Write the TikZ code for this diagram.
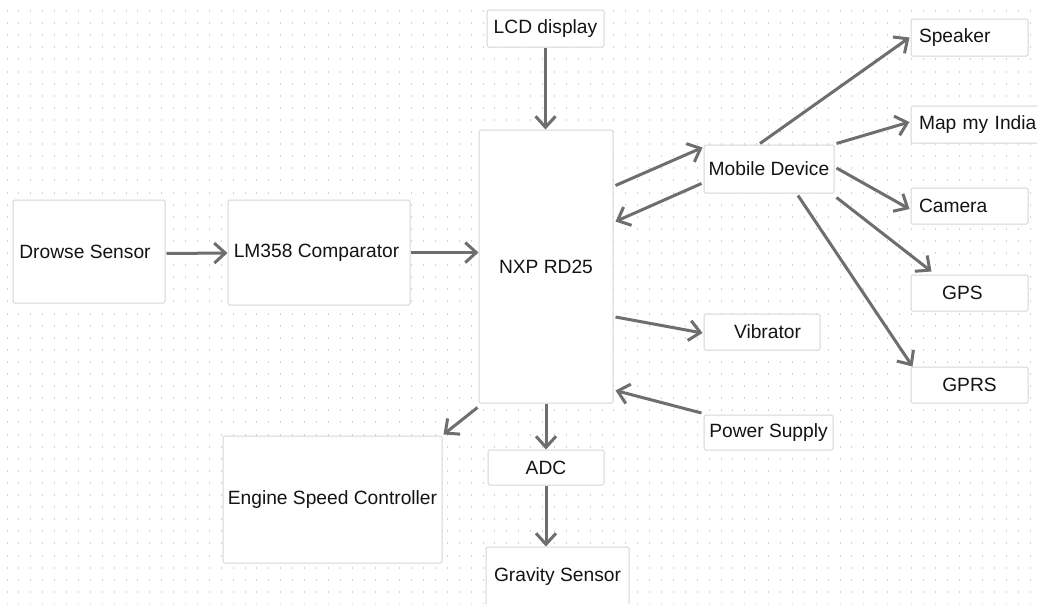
\documentclass[tikz,border=0pt]{standalone}
\usepackage{fontspec}
\setmainfont{Liberation Sans}
\usetikzlibrary{arrows.meta,calc}
\definecolor{boxline}{HTML}{D4D4DC}
\definecolor{arrowgray}{HTML}{6E6E6E}
\definecolor{dotgray}{HTML}{D2D2D2}
\definecolor{txt}{HTML}{141414}
\tikzset{
  blk/.style={draw=boxline, line width=1pt, fill=white, rounded corners=1.5pt,
    inner sep=0pt, text=txt, font=\fontsize{19.2}{23}\selectfont, align=center},
  lblk/.style={blk, align=left},
  arr/.style={draw=arrowgray, line width=3pt,
    -{Straight Barb[length=11pt,width=20pt,line width=3pt]}},
}
\newcommand{\dn}[1]{\raisebox{-1.5pt}{#1}}
\begin{document}
\begin{tikzpicture}[x=1pt,y=-1pt]
\useasboundingbox (0,0) rectangle (1037,603);
\fill[white] (0,0) rectangle (1037,603);
% dotted grid
\foreach \i in {0,...,86}{
  \foreach \j in {0,...,49}{
    \fill[dotgray] ({6.5+11.9*\i},{10+12.1*\j}) rectangle +(1,2);
  }
}
% nodes
\node[blk, minimum width=152, minimum height=103] (ds) at (89,251.5) {\hspace*{-8pt}\dn{Drowse Sensor}};
\node[blk, minimum width=182, minimum height=105] (lm) at (319,252.5) {\hspace*{-5pt}\dn{LM358 Comparator}};
\node[blk, minimum width=134, minimum height=273] (nxp) at (546,266.5) {\dn{NXP RD25}};
\node[blk, minimum width=117, minimum height=37] (lcd) at (545.5,28.5) {\dn{LCD display}};
\node[blk, minimum width=130, minimum height=48] (mob) at (769,169) {\dn{Mobile Device}};
\node[lblk, minimum width=117, minimum height=37, text width=101] (spk) at (969.5,37.5) {\dn{Speaker}};
\node[lblk, minimum width=134, minimum height=37, text width=118] (map) at (978,124.5) {\dn{Map my India}};
\node[lblk, minimum width=117, minimum height=36, text width=101] (cam) at (969.5,206) {\dn{Camera}};
\node[blk, minimum width=117, minimum height=36] (gps) at (969.5,293) {\dn{GPS}\hspace*{14pt}};
\node[blk, minimum width=117, minimum height=36] (gprs) at (969.5,385) {\dn{GPRS}};
\node[blk, minimum width=116, minimum height=36] (vib) at (762,332) {\hspace*{11pt}\dn{Vibrator}};
\node[blk, minimum width=129, minimum height=35] (ps) at (768.5,432.5) {\dn{Power Supply}};
\node[blk, minimum width=116, minimum height=35] (adc) at (546,467.5) {\dn{ADC}};
\node[blk, minimum width=143, minimum height=60] (grav) at (557.5,577) {\dn{Gravity Sensor}};
\node[blk, minimum width=219, minimum height=127] (esc) at (332.5,499.5) {\dn{Engine Speed Controller}};
% connectors
\draw[arr] ($(ds.east)+(1,2)$) -- ($(lm.west)+(0,0.5)$);
\draw[arr] (lm.east) -- (lm.east -| nxp.west);
\draw[arr] (lcd.south) -- (lcd.south |- nxp.north);
\draw[arr] ($(nxp.north east)+(2,56)$) -- ($(mob.north west)+(-1,3)$);
\draw[arr] ($(mob.south west)+(-2,-10)$) -- ($(nxp.north east)+(2,92)$);
\draw[arr] ($(mob.north)+(-9,-1)$) -- ($(spk.west)+(-1,0)$);
\draw[arr] ($(mob.north east)+(2,-1)$) -- ($(map.west)+(-1,-2.5)$);
\draw[arr] ($(mob.east)+(2,-1)$) -- ($(cam.west)+(-1,3)$);
\draw[arr] ($(mob.south east)+(2,4)$) -- ($(gps.north west)+(21,-3)$);
\draw[arr] ($(mob.south)+(29,2)$) -- ($(gprs.north west)+(2,0)$);
\draw[arr] ($(nxp.east)+(2,50.5)$) -- ($(vib.west)+(-1,1)$);
\draw[arr] ($(ps.west)+(-2,-19.5)$) -- ($(nxp.south east)+(2,-13)$);
\draw[arr] ($(nxp.south west)+(-1,4)$) -- ($(esc.north east)+(1,-1)$);
\draw[arr] (nxp.south) -- (adc.north);
\draw[arr] (adc.south) -- (adc.south |- grav.north);
\end{tikzpicture}
\end{document}
